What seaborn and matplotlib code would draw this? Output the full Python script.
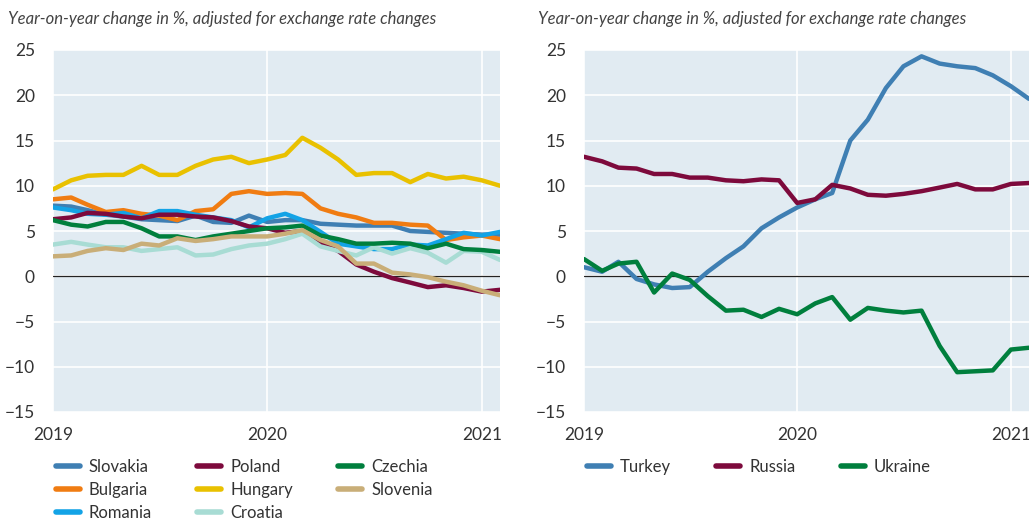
import pandas as pd
import numpy as np
import matplotlib
matplotlib.use('Agg')
import matplotlib.pyplot as plt
import seaborn as sns

# monthly data, Jan 2019 - Feb 2021
months = pd.date_range('2019-01-01', '2021-02-01', freq='MS')

slovakia = [7.8, 7.7, 7.3, 6.8, 6.6, 6.3, 6.2, 6.1, 6.7, 6.0, 5.9, 6.7, 6.0, 6.2, 6.2, 5.8,
            5.7, 5.6, 5.6, 5.6, 5.0, 4.9, 4.8, 4.7, 4.6, 4.6]
bulgaria = [8.5, 8.7, 7.9, 7.1, 7.3, 6.9, 6.7, 6.2, 7.2, 7.4, 9.1, 9.4, 9.1, 9.2, 9.1, 7.5,
            6.9, 6.5, 5.9, 5.9, 5.7, 5.6, 4.0, 4.3, 4.5, 4.1]
romania = [7.6, 7.3, 6.9, 6.8, 7.0, 6.4, 7.2, 7.2, 6.8, 6.5, 6.2, 5.4, 6.4, 6.9, 6.2, 4.9,
           3.6, 3.3, 3.0, 3.0, 3.5, 3.4, 4.1, 4.8, 4.5, 4.9]
poland = [6.3, 6.5, 7.0, 6.9, 6.6, 6.4, 6.8, 6.8, 6.6, 6.5, 6.1, 5.5, 5.3, 4.8, 5.0, 3.7,
          2.8, 1.3, 0.5, -0.2, -0.7, -1.2, -1.0, -1.3, -1.7, -1.5]
hungary = [9.6, 10.6, 11.1, 11.2, 11.2, 12.2, 11.2, 11.2, 12.2, 12.9, 13.2, 12.5, 12.9, 13.4,
           15.3, 14.2, 12.9, 11.2, 11.4, 11.4, 10.4, 11.3, 10.8, 11.0, 10.6, 10.0]
croatia = [3.5, 3.8, 3.5, 3.2, 3.2, 2.8, 3.0, 3.2, 2.3, 2.4, 3.0, 3.4, 3.6, 4.1, 4.7, 3.3,
           2.8, 2.3, 3.2, 2.5, 3.1, 2.6, 1.5, 2.8, 2.7, 1.8]
czechia = [6.2, 5.7, 5.5, 6.0, 6.0, 5.3, 4.4, 4.4, 4.0, 4.4, 4.7, 5.0, 5.3, 5.4, 5.6, 4.5,
           4.1, 3.6, 3.6, 3.7, 3.6, 3.1, 3.6, 3.0, 2.9, 2.7]
slovenia = [2.2, 2.3, 2.8, 3.1, 2.9, 3.6, 3.4, 4.2, 3.9, 4.1, 4.4, 4.4, 4.4, 4.7, 5.1, 4.0,
            3.3, 1.4, 1.4, 0.4, 0.2, -0.1, -0.6, -1.0, -1.6, -2.1]

turkey = [1.0, 0.5, 1.6, -0.3, -0.9, -1.3, -1.2, 0.5, 2.0, 3.3, 5.3, 6.5, 7.6, 8.5, 9.2, 15.0,
          17.3, 20.8, 23.2, 24.3, 23.5, 23.2, 23.0, 22.2, 21.0, 19.6]
russia = [13.2, 12.7, 12.0, 11.9, 11.3, 11.3, 10.9, 10.9, 10.6, 10.5, 10.7, 10.6, 8.1, 8.5,
          10.1, 9.7, 9.0, 8.9, 9.1, 9.4, 9.8, 10.2, 9.6, 9.6, 10.2, 10.3]
ukraine = [1.9, 0.6, 1.4, 1.6, -1.8, 0.3, -0.4, -2.2, -3.8, -3.7, -4.5, -3.6, -4.2, -3.0, -2.3,
           -4.8, -3.5, -3.8, -4.0, -3.8, -7.7, -10.6, -10.5, -10.4, -8.1, -7.9]

left_series = {'Slovakia': slovakia, 'Bulgaria': bulgaria, 'Romania': romania,
               'Poland': poland, 'Hungary': hungary, 'Croatia': croatia,
               'Czechia': czechia, 'Slovenia': slovenia}
right_series = {'Turkey': turkey, 'Russia': russia, 'Ukraine': ukraine}

left_colors = {'Slovakia': '#3f7fb3', 'Bulgaria': '#f07c12', 'Romania': '#13a3e6',
               'Poland': '#7d0a3c', 'Hungary': '#e9c100', 'Croatia': '#a8dcd4',
               'Czechia': '#007f3d', 'Slovenia': '#c9ae78'}
right_colors = {'Turkey': '#3f7fb3', 'Russia': '#7d0a3c', 'Ukraine': '#007f3d'}

yticks = [25, 20, 15, 10, 5, 0, -5, -10, -15]
xtick_dates = pd.to_datetime(['2019-01-01', '2020-01-01', '2021-01-01'])
xtick_labels = ['2019', '2020', '2021']
title = 'Year-on-year change in %, adjusted for exchange rate changes'


def long_df(series):
    frames = [pd.DataFrame({'month': months, 'value': v, 'country': k}) for k, v in series.items()]
    return pd.concat(frames, ignore_index=True)


sns.set_style('white')
plt.rcParams['font.family'] = ['Lato', 'DejaVu Sans']
txt = '#333333'

fig = plt.figure(figsize=(10.29, 5.19), dpi=100)
ax1 = fig.add_axes([53 / 1029, 107 / 519, 447 / 1029, 362 / 519])
ax2 = fig.add_axes([584 / 1029, 107 / 519, 445 / 1029, 362 / 519])

for ax, series, colors, title_x in [(ax1, left_series, left_colors, 8),
                                    (ax2, right_series, right_colors, 538)]:
    ax.set_facecolor('#e1ebf2')
    for tx in xtick_dates:
        ax.axvline(tx, color='white', lw=1.2, zorder=0)
    for ty in yticks:
        ax.axhline(ty, color='white', lw=1.2, zorder=0)
    ax.axhline(0, color='#222222', lw=0.9, zorder=1)
    sns.lineplot(data=long_df(series), x='month', y='value', hue='country',
                 hue_order=list(series.keys()), palette=colors, lw=3.2, ax=ax, zorder=3)
    ax.set_xlim(months[0], months[-1])
    ax.set_ylim(-15, 25)
    ax.set_xticks(xtick_dates)
    ax.set_xticklabels(xtick_labels)
    ax.set_yticks(yticks)
    ax.set_yticklabels([str(t).replace('-', '\u2212') for t in yticks])
    ax.tick_params(length=0, labelsize=12.5, colors=txt)
    ax.tick_params(axis='y', pad=13)
    ax.tick_params(axis='x', pad=11)
    ax.set_xlabel('')
    ax.set_ylabel('')
    for s in ax.spines.values():
        s.set_visible(False)
    ax.grid(False)
    fig.text(title_x / 1029, 1 - 19 / 519, title, style='italic', fontsize=12,
             color='#444444', va='center', ha='left')
    handles, labels = ax.get_legend_handles_labels()
    leg = ax.legend(handles, labels, ncol=3, loc='upper left',
                    bbox_to_anchor=(-0.009, -0.112), frameon=False, fontsize=12,
                    handlelength=1.45, handletextpad=0.55, columnspacing=2.7,
                    labelspacing=0.4, borderaxespad=0)
    for t in leg.get_texts():
        t.set_color(txt)
    for h in leg.get_lines():
        h.set_linewidth(4)

fig.savefig('out.png', dpi=100)
